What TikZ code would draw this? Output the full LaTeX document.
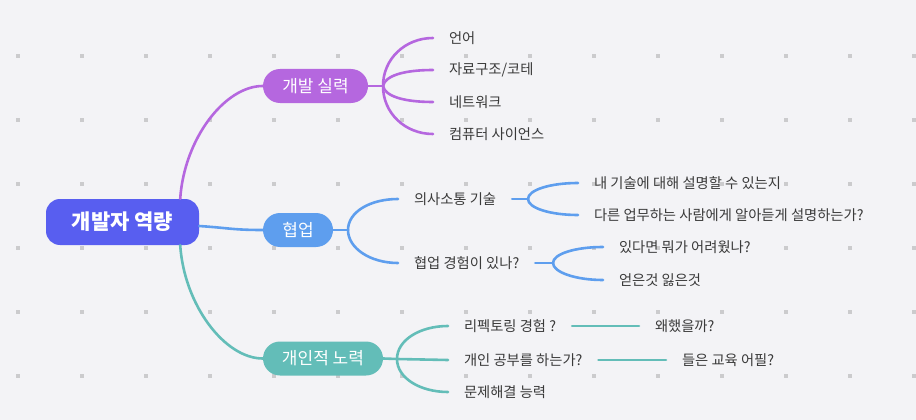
\documentclass[tikz,border=0pt]{standalone}
\usepackage{fontspec}
\setmainfont{Noto Sans CJK KR}
\definecolor{bgc}{HTML}{F3F3F6}
\definecolor{dotc}{HTML}{CBCBCD}
\definecolor{croot}{HTML}{585EF0}
\definecolor{cpurple}{HTML}{B567DF}
\definecolor{cblue}{HTML}{5E9EEE}
\definecolor{cteal}{HTML}{63BDB8}
\definecolor{txt}{HTML}{3A3A3A}
\tikzset{
  rootbox/.style={fill=croot, text=white, rounded corners=14pt, minimum width=153pt, minimum height=46pt, inner sep=0pt, font=\fontsize{21}{21}\selectfont\bfseries},
  mainbox/.style={text=white, rounded corners=17pt, minimum height=34pt, inner sep=0pt, font=\fontsize{17}{17}\selectfont},
  leaf/.style={text=txt, anchor=west, inner sep=0pt, outer xsep=16pt, font=\fontsize{14.3}{14.3}\selectfont},
  conn/.style={line width=2.6pt, line cap=round},
}
\begin{document}
\begin{tikzpicture}[x=1pt, y=-1pt]
\fill[bgc] (0,0) rectangle (916,420);
\useasboundingbox (0,0) rectangle (916,420);
% grid dots
\foreach \gx in {18,82,...,914} {
  \foreach \gy in {56,120,...,376} {
    \fill[dotc] (\gx-2,\gy-2) rectangle (\gx+2,\gy+2);
  }
}
% main nodes
\node[rootbox] (root) at (122.5,222) {개발자 역량};
\node[mainbox, fill=cpurple, minimum width=105pt] (dev) at (315.5,86) {개발 실력};
\node[mainbox, fill=cblue, minimum width=70pt] (collab) at (298,230) {협업};
\node[mainbox, fill=cteal, minimum width=120pt] (self) at (323,358.5) {개인적 노력};
% leaves: 개발 실력
\node[leaf] (l1) at (433,38) {언어};
\node[leaf] (l2) at (433,70) {자료구조/코테};
\node[leaf] (l3) at (433,102) {네트워크};
\node[leaf] (l4) at (433,134) {컴퓨터 사이언스};
% leaves: 협업
\node[leaf] (c1) at (398,199) {의사소통 기술};
\node[leaf] (c2) at (398,263) {협업 경험이 있나?};
\node[leaf] (c11) at (578,183) {내 기술에 대해 설명할 수 있는지};
\node[leaf] (c12) at (578,215) {다른 업무하는 사람에게 알아듣게 설명하는가?};
\node[leaf] (c21) at (603,247) {있다면 뭐가 어려웠나?};
\node[leaf] (c22) at (603,280) {얻은것 잃은것};
% leaves: 개인적 노력
\node[leaf] (s1) at (448,326) {리펙토링 경험 ?};
\node[leaf] (s2) at (448,360) {개인 공부를 하는가?};
\node[leaf] (s3) at (448,392) {문제해결 능력};
\node[leaf] (s11) at (639,326) {왜했을까?};
\node[leaf] (s21) at (666,360) {들은 교육 어필?};
% root connectors
\coordinate (rtop) at ([xshift=-19pt]root.north east);
\coordinate (rbot) at ([xshift=-19pt]root.south east);
\draw[conn, cpurple] (rtop) .. controls +(4,-60) and +(-38,0) .. (dev.west);
\draw[conn, cblue] ([yshift=-4pt]root.east) .. controls +(30,2) and +(-30,0) .. (collab.west);
\draw[conn, cteal] (rbot) .. controls +(4,60) and +(-38,0) .. (self.west);
% fork: 개발 실력
\coordinate (f1) at (383,86);
\draw[conn, cpurple] (dev.east) -- (f1);
\draw[conn, cpurple] (f1) .. controls +(0,-27) and +(-28,0) .. (l1.west);
\draw[conn, cpurple] (f1) .. controls +(2,-10) and +(-30,0) .. (l2.west);
\draw[conn, cpurple] (f1) .. controls +(2,10) and +(-30,0) .. (l3.west);
\draw[conn, cpurple] (f1) .. controls +(0,27) and +(-28,0) .. (l4.west);
% fork: 협업
\coordinate (f2) at (348,230);
\draw[conn, cblue] (collab.east) -- (f2);
\draw[conn, cblue] (f2) .. controls +(0,-18) and +(-28,0) .. (c1.west);
\draw[conn, cblue] (f2) .. controls +(0,18) and +(-28,0) .. (c2.west);
\coordinate (f21) at (528,199);
\draw[conn, cblue] (c1.east) -- (f21);
\draw[conn, cblue] (f21) .. controls +(0,-9) and +(-28,0) .. (c11.west);
\draw[conn, cblue] (f21) .. controls +(0,9) and +(-28,0) .. (c12.west);
\coordinate (f22) at (553,263);
\draw[conn, cblue] (c2.east) -- (f22);
\draw[conn, cblue] (f22) .. controls +(0,-9) and +(-28,0) .. (c21.west);
\draw[conn, cblue] (f22) .. controls +(0,9) and +(-28,0) .. (c22.west);
% fork: 개인적 노력
\coordinate (f3) at (397,359);
\draw[conn, cteal] (self.east) -- (f3);
\draw[conn, cteal] (f3) .. controls +(0,-19) and +(-28,0) .. (s1.west);
\draw[conn, cteal] (f3) -- (s2.west);
\draw[conn, cteal] (f3) .. controls +(0,19) and +(-28,0) .. (s3.west);
\draw[conn, cteal] (s1.east) -- (s11.west);
\draw[conn, cteal] (s2.east) -- (s21.west);
\end{tikzpicture}
\end{document}
